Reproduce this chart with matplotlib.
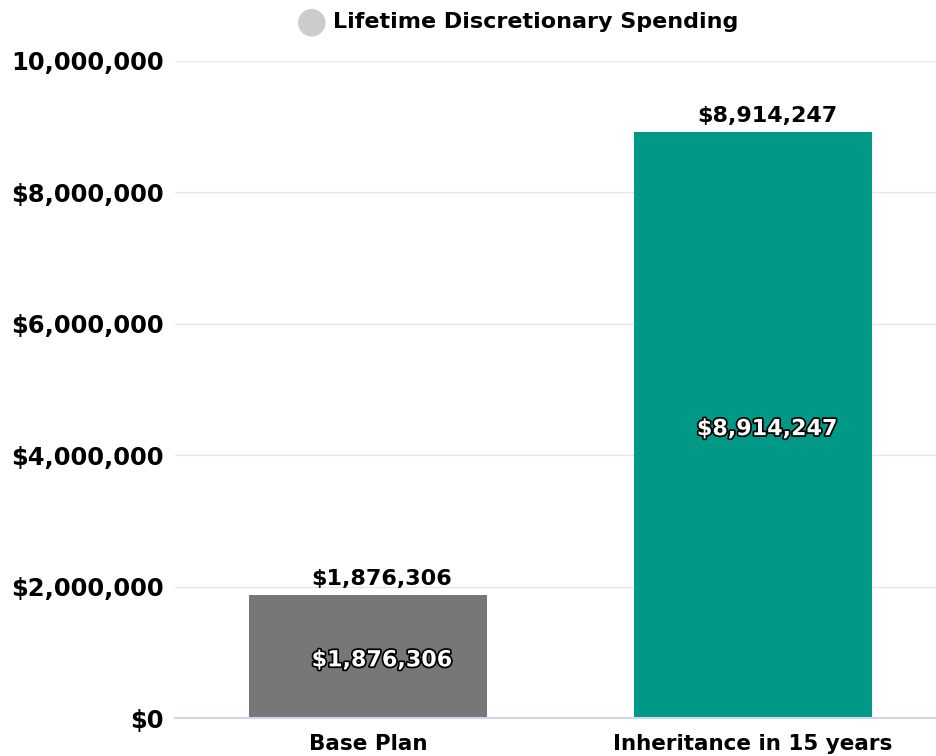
import numpy as np
import matplotlib.pyplot as plt
import matplotlib.patheffects as pe
from matplotlib.ticker import FuncFormatter

# chart data
categories = ['Base Plan', 'Inheritance in 15 years']
spending = [1876306, 8914247]
bar_colors = ['#777777', '#009886']
yticks = [0, 2000000, 4000000, 6000000, 8000000, 10000000]
title = 'Lifetime Discretionary Spending'

plt.rcParams['font.family'] = ['DejaVu Sans']

W, H = 937, 756
fig = plt.figure(figsize=[W / 100, H / 100], dpi=100)
# plot area runs a little past the right edge of the figure
ax = fig.add_axes([175.5 / W, 1 - 718 / H, 770 / W, (718 - 61) / H])

x = np.arange(len(categories))
bars = ax.bar(x, spending, width=0.618, color=bar_colors, zorder=2)

ax.set_xlim(-0.5, len(categories) - 0.5)
ax.set_ylim(0, 10000000)
ax.set_yticks(yticks)


def money(v, pos=None):
    # top tick has no dollar sign in the original
    if v == 10000000:
        return f'{int(v):,}'
    return f'${int(v):,}'


ax.yaxis.set_major_formatter(FuncFormatter(money))
ax.set_xticks(x)
ax.set_xticklabels(categories)
ax.tick_params(axis='both', length=0)
ax.tick_params(axis='y', pad=8.5, labelsize=17.5)
ax.tick_params(axis='x', pad=11.5, labelsize=15.5)
for lbl in ax.get_yticklabels() + ax.get_xticklabels():
    lbl.set_fontweight('bold')

ax.grid(axis='y', color='#e6e6e6', linewidth=1, zorder=0)
for side in ['top', 'right', 'left']:
    ax.spines[side].set_visible(False)
ax.spines['bottom'].set_color('#ccd6eb')
ax.spines['bottom'].set_linewidth(1.5)
ax.spines['bottom'].set_zorder(3)

# data labels sit a bit right of bar centre, as in the original
for b, v in zip(bars, spending):
    cx = b.get_x() + b.get_width() / 2
    ax.annotate(f'${v:,}', (cx, v), xytext=(14, 16), textcoords='offset pixels',
                ha='center', va='center', fontsize=16, fontweight='bold',
                color='black', zorder=4)
    ax.annotate(f'${v:,}', (cx, v / 2), xytext=(14, -4), textcoords='offset pixels',
                ha='center', va='center', fontsize=16, fontweight='bold',
                color='white', zorder=4,
                path_effects=[pe.withStroke(linewidth=2.5, foreground='black')])

# legend-style title with gray circle
fig.text(312 / W, 1 - 21 / H, '\u25cf', fontsize=26, color='#cccccc',
         ha='center', va='center')
fig.text(333 / W, 1 - 22 / H, title, fontsize=16, fontweight='bold',
         ha='left', va='center')

fig.savefig('out.png', dpi=100)
